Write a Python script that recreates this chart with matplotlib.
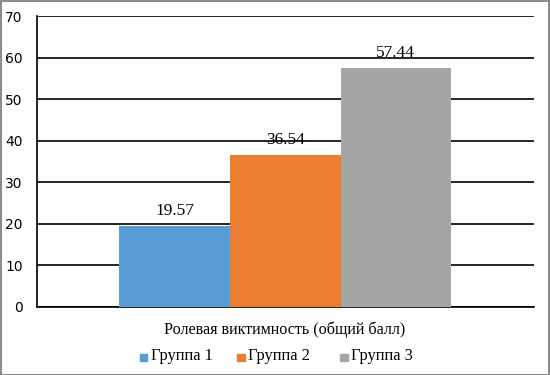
import numpy as np
import matplotlib.pyplot as plt
from matplotlib.patches import Rectangle

# data
category = "Ролевая виктимность (общий балл)"
groups = ["Группа 1", "Группа 2", "Группа 3"]
values = [19.57, 36.54, 57.44]
colors = ["#5B9BD5", "#ED7D31", "#A5A5A5"]
yticks = [0, 10, 20, 30, 40, 50, 60, 70]

W, H = 550, 375
fig = plt.figure(figsize=(W / 100, H / 100), dpi=100)
ax = fig.add_axes([36.5 / W, 1 - 307 / H, (534 - 36.5) / W, (307 - 16) / H])

x = np.arange(len(values)) - 1
ax.bar(x, values, width=1.0, color=colors, zorder=3)

for xi, v in zip(x, values):
    ax.annotate(f"{v:.2f}", (xi, v), textcoords="offset points", xytext=(0, 5),
                ha="center", va="bottom", fontsize=12.5, family="Liberation Serif", zorder=4)

span = 3 * (534 - 36.5) / (451 - 119)
ax.set_xlim(-span / 2, span / 2)
ax.set_ylim(0, 70)
ax.set_yticks(yticks)
ax.set_yticklabels([str(t) for t in yticks], fontsize=10, family="DejaVu Sans")
ax.tick_params(axis="y", length=0, pad=10)
ax.set_xticks([])
ax.grid(True, axis="y", color="black", linewidth=1.2, zorder=1)

for s in ["top", "right"]:
    ax.spines[s].set_visible(False)
ax.spines["left"].set_linewidth(1.2)
ax.spines["bottom"].set_linewidth(1.2)

fig.text(285 / W, 1 - 330 / H, category, ha="center", va="center",
         fontsize=11.6, family="Liberation Serif")

# legend drawn below
leg_x = [140, 237, 340]
for lx, g, c in zip(leg_x, groups, colors):
    fig.patches.append(Rectangle((lx / W, 1 - 361 / H), 7.5 / W, 7.5 / H,
                                 transform=fig.transFigure, color=c, figure=fig))
    fig.text((lx + 11) / W, 1 - 356.5 / H, g, ha="left", va="center",
             fontsize=11.8, family="Liberation Serif")

# outer border
fig.patches.append(Rectangle((0.5 / W, 0.5 / H), (W - 1.5) / W, (H - 1.5) / H,
                             transform=fig.transFigure, fill=False,
                             edgecolor="#8C8C8C", linewidth=1.5, figure=fig))

fig.savefig("out.png", dpi=100)
